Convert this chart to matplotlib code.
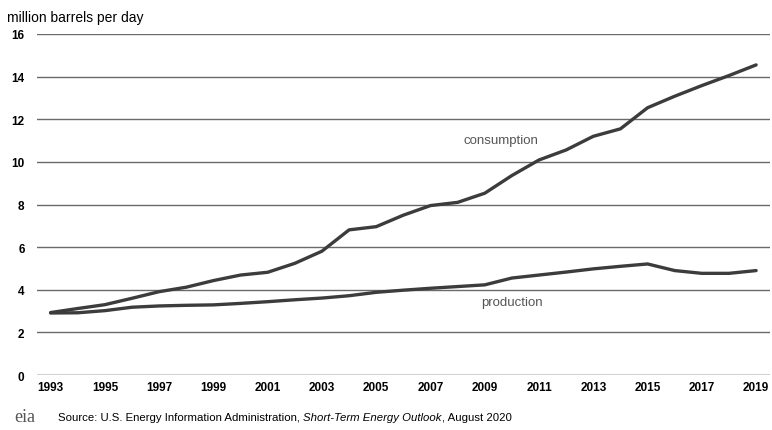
import matplotlib.pyplot as plt

# --------------------------------
# DATA (million barrels per day)
# --------------------------------
years = list(range(1993, 2020))
consumption = [2.93, 3.12, 3.30, 3.60, 3.91, 4.12, 4.43, 4.69, 4.82, 5.24, 5.81,
               6.81, 6.96, 7.50, 7.95, 8.10, 8.53, 9.36, 10.09, 10.56, 11.20,
               11.55, 12.54, 13.08, 13.58, 14.05, 14.55]
production = [2.91, 2.92, 3.02, 3.18, 3.24, 3.27, 3.29, 3.36, 3.44, 3.53, 3.61,
              3.72, 3.88, 3.98, 4.07, 4.15, 4.23, 4.55, 4.69, 4.83, 4.98,
              5.10, 5.21, 4.90, 4.77, 4.77, 4.90]
xtick_years = list(range(1993, 2020, 2))
yticks = list(range(0, 17, 2))

plt.rcParams['font.family'] = ['Liberation Sans', 'DejaVu Sans']

fig = plt.figure(figsize=(7.72, 4.31), dpi=100)
ax = fig.add_axes([0.048, 0.1276, 0.949, 0.7912])

for y in yticks:
    if y == 0:
        ax.axhline(y, color="#c8c8c8", lw=1.2, zorder=1)
    else:
        ax.axhline(y, color="#6a6a6a", lw=1.0, zorder=1)

ax.plot(years, consumption, color="#3c3c3c", lw=2.4, zorder=3, solid_capstyle="round")
ax.plot(years, production, color="#3c3c3c", lw=2.4, zorder=3, solid_capstyle="round")

ax.text(2009.6, 11.03, "consumption", ha="center", va="center", fontsize=9.5, color="#555555")
ax.text(2010.0, 3.43, "production", ha="center", va="center", fontsize=9.5, color="#555555")

ax.set_xlim(1992.5, 2019.5)
ax.set_ylim(0, 16)
ax.set_xticks(xtick_years)
ax.set_yticks(yticks)
ax.tick_params(length=0, labelsize=8.5)
ax.tick_params(axis="y", pad=9)
ax.tick_params(axis="x", pad=4)
for lbl in ax.get_xticklabels() + ax.get_yticklabels():
    lbl.set_fontweight("bold")
for s in ax.spines.values():
    s.set_visible(False)

fig.text(0.009, 0.958, "million barrels per day", fontsize=10, va="center", ha="left")

fig.text(0.018, 0.012, "eia", fontsize=13, family="Liberation Serif", color="#555555",
         va="bottom", ha="left")
fig.text(0.075, 0.018, "Source: U.S. Energy Information Administration, ", fontsize=8.2,
         va="bottom", ha="left")
t1 = fig.texts[-1]
fig.canvas.draw()
x1 = t1.get_window_extent().x1 / fig.bbox.width
fig.text(x1, 0.018, "Short-Term Energy Outlook", fontsize=8.2, style="italic",
         va="bottom", ha="left")
t2 = fig.texts[-1]
fig.canvas.draw()
x2 = t2.get_window_extent().x1 / fig.bbox.width
fig.text(x2, 0.018, ", August 2020", fontsize=8.2, va="bottom", ha="left")

fig.savefig("out.png", dpi=100)
